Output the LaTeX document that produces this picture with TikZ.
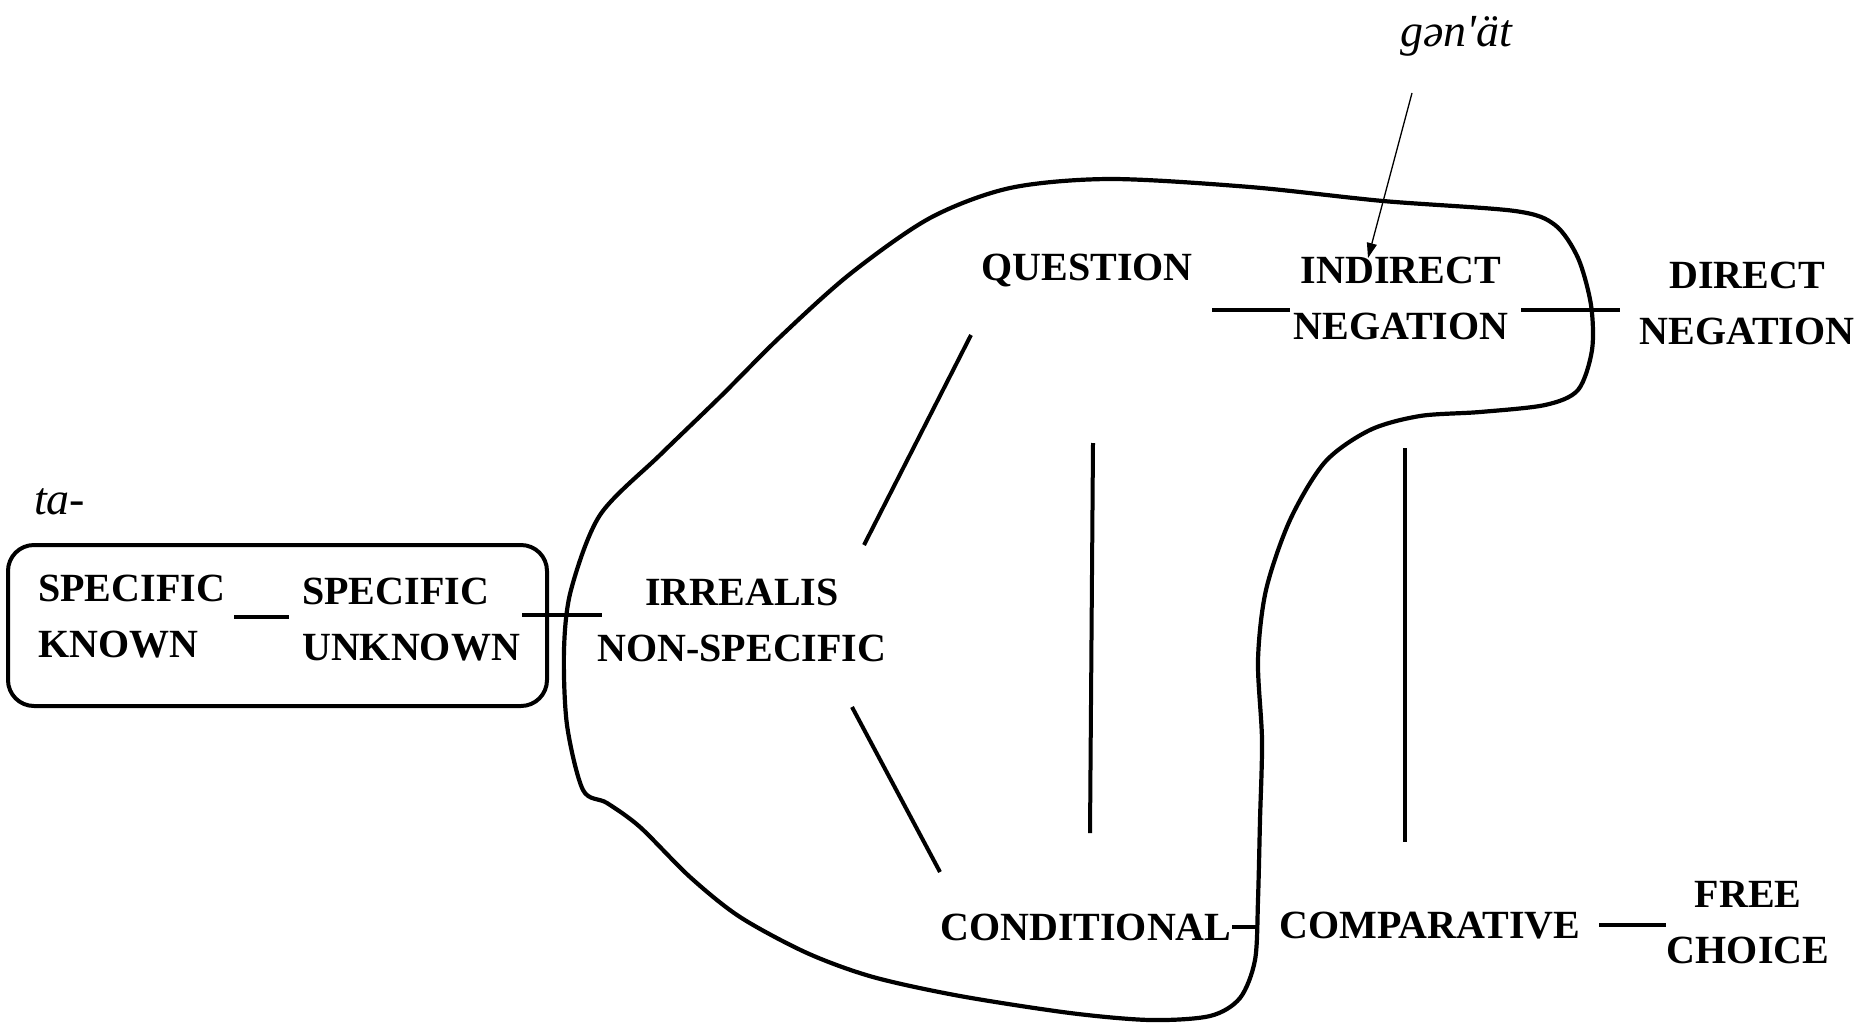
\documentclass[tikz,border=0pt]{standalone}
\usepackage{fontspec}
\setmainfont{Liberation Serif}
\newfontfamily\ipafont{Liberation Serif Italic}
\usetikzlibrary{arrows.meta}

\tikzset{
  lbl/.style={font=\fontsize{40}{56}\selectfont\bfseries, inner sep=0pt},
  tag/.style={font=\ipafont\fontsize{46}{52}\selectfont, inner sep=0pt},
  link/.style={line width=4pt},
  blob/.style={line width=4.2pt, line join=round},
  frame/.style={line width=4pt, rounded corners=26pt},
  pointer/.style={line width=1.3pt, -{Triangle[length=15pt,width=10pt]}}
}

\begin{document}
\begin{tikzpicture}[x=1pt, y=-1pt]
\useasboundingbox (0,0) rectangle (1857,1023);

% concept labels
\node[lbl, align=left, anchor=west] (sk) at (38,617) {SPECIFIC\\KNOWN};
\node[lbl, align=left, anchor=west] (su) at (302,620) {SPECIFIC\\UNKNOWN};
\node[lbl, align=center] (irr) at (742,620) {IRREALIS\\NON-SPECIFIC};
\node[lbl] (q) at (1087,270) {QUESTION};
\node[lbl, align=center] (ind) at (1401,298) {INDIRECT\\NEGATION};
\node[lbl, align=center] (dir) at (1747,303) {DIRECT\\NEGATION};
\node[lbl] (cond) at (1086,927) {CONDITIONAL};
\node[lbl] (comp) at (1430,926) {COMPARATIVE};
\node[lbl, align=center] (fc) at (1748,923) {FREE\\CHOICE};

% form labels
\node[tag, anchor=base west] (ta) at (34,514) {ta-};
\node[tag, anchor=base] (gn) at (1456,46) {gən'ät};

% box around the ta- domain
\draw[frame] (8,545) rectangle (547,706);

% region covered by gən'ät
\draw[blob] plot[smooth cycle, tension=0.5] coordinates {
  (583,790) (567,725) (564,650) (571,590) (600,515) (660,455) (720,397)
  (780,337) (850,274) (930,218) (1010,188) (1110,179) (1250,187)
  (1383,201) (1515,211) (1555,225) (1578,258) (1591,305) (1592,350)
  (1578,390) (1545,405) (1480,412) (1420,416) (1370,430) (1325,462)
  (1290,520) (1266,590) (1258,660) (1262,740) (1260,820) (1258,900)
  (1255,960) (1240,998) (1210,1016) (1150,1020) (1070,1013) (960,996)
  (873,977) (807,953) (740,917) (690,877) (640,827) (607,803)};

% connector end points
\coordinate (sk-r) at (234,617);  \coordinate (su-l) at (289,617);
\coordinate (su-r) at (522,615);  \coordinate (irr-l) at (602,615);
\coordinate (q-sw) at (971,335);  \coordinate (irr-ne) at (864,545);
\coordinate (q-s) at (1093,443);  \coordinate (cond-n) at (1090,833);
\coordinate (irr-se) at (852,707); \coordinate (cond-nw) at (940,872);
\coordinate (q-e) at (1212,310);  \coordinate (ind-w) at (1290,310);
\coordinate (ind-e) at (1521,310); \coordinate (dir-w) at (1620,310);
\coordinate (ind-s) at (1405,448); \coordinate (comp-n) at (1405,842);
\coordinate (cond-e) at (1232,927); \coordinate (comp-w) at (1258,927);
\coordinate (comp-e) at (1599,925); \coordinate (fc-w) at (1666,925);
\coordinate (gn-s) at (1412,93);  \coordinate (ind-n) at (1368,258);

% semantic map connections
\draw[link] (sk-r) -- (su-l);
\draw[link] (su-r) -- (irr-l);
\draw[link] (q-sw) -- (irr-ne);
\draw[link] (q-s) -- (cond-n);
\draw[link] (irr-se) -- (cond-nw);
\draw[link] (q-e) -- (ind-w);
\draw[link] (ind-e) -- (dir-w);
\draw[link] (ind-s) -- (comp-n);
\draw[link] (cond-e) -- (comp-w);
\draw[link] (comp-e) -- (fc-w);

% pointer from the form to its function
\draw[pointer] (gn-s) -- (ind-n);
\end{tikzpicture}
\end{document}
